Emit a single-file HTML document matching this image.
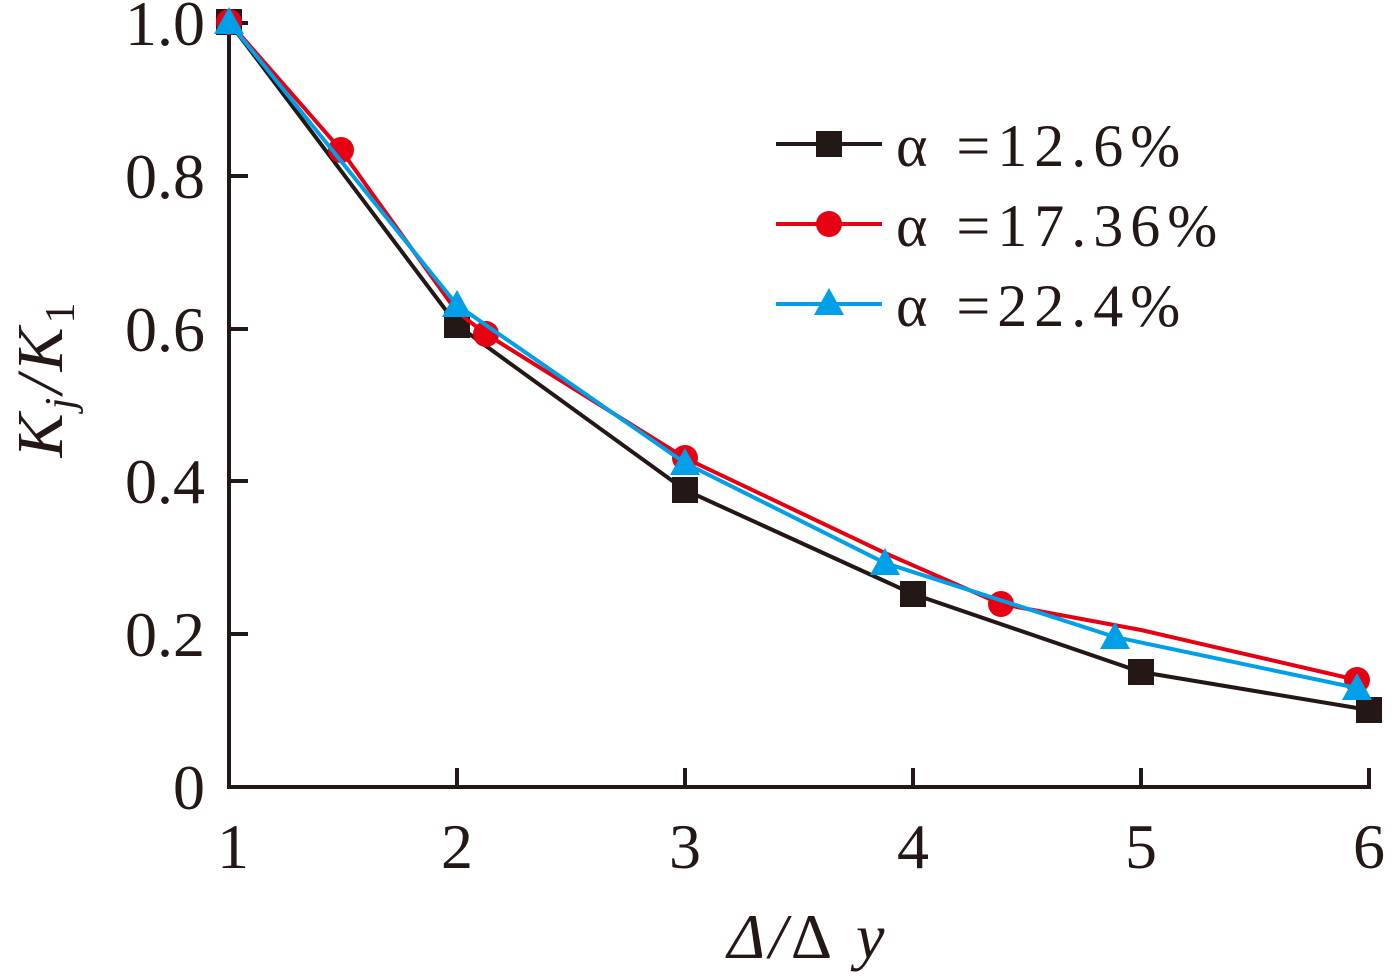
<!DOCTYPE html>
<html><head><meta charset="utf-8"><style>
html,body{margin:0;padding:0;background:#fff;}
svg text{font-family:"Liberation Serif","Times New Roman",Times,serif;fill:#231815;}
</style></head><body>
<svg width="1392" height="975" xmlns="http://www.w3.org/2000/svg">
<g stroke="#231815" stroke-width="4" fill="none">
<path d="M229,20 V787 H1371"/>
<path d="M229,176 H248 M229,329 H248 M229,481 H248 M229,634 H248 M229,23 H248"/>
<path d="M457,787 V768 M685,787 V768 M913,787 V768 M1141,787 V768 M1369,787 V768"/>
</g>
<g font-size="64" text-anchor="end">
<text x="205" y="45">1.0</text>
<text x="205" y="198">0.8</text>
<text x="205" y="351">0.6</text>
<text x="205" y="503">0.4</text>
<text x="205" y="656">0.2</text>
<text x="205" y="809">0</text>
</g>
<g font-size="64" text-anchor="middle">
<text x="233" y="868">1</text>
<text x="457" y="868">2</text>
<text x="685" y="868">3</text>
<text x="913" y="868">4</text>
<text x="1141" y="868">5</text>
<text x="1369" y="868">6</text>
</g>
<text x="808" y="958" font-size="64" text-anchor="middle" font-style="italic" letter-spacing="4">Δ/<tspan font-style="normal">Δ</tspan> y</text>
<text transform="translate(62,378) rotate(-90)" font-size="66" text-anchor="middle" font-style="italic" letter-spacing="4">K<tspan font-size="42" dy="12">j</tspan><tspan dy="-12">/K</tspan><tspan font-size="42" dy="12" font-style="normal">1</tspan></text>
<!-- black -->
<polyline points="229,22 457,325 685,490 913,594 1141,672 1369,710" stroke="#231815" stroke-width="4" fill="none"/>
<g fill="#231815">
<rect x="216" y="9" width="26" height="26"/><rect x="444" y="312" width="26" height="26"/><rect x="672" y="477" width="26" height="26"/><rect x="900" y="581" width="26" height="26"/><rect x="1128" y="659" width="26" height="26"/><rect x="1356" y="697" width="26" height="26"/>
</g>
<!-- red -->
<polyline points="229,22 341,150 457,312 486,334 685,458 885,553 1001,604 1141,630 1357,680" stroke="#e60012" stroke-width="4" fill="none"/>
<g fill="#e60012">
<circle cx="229" cy="22" r="13"/><circle cx="341" cy="150" r="13"/><circle cx="486" cy="334" r="13"/><circle cx="685" cy="458" r="13"/><circle cx="1001" cy="604" r="13"/><circle cx="1357" cy="680" r="13"/>
</g>
<!-- blue -->
<polyline points="229,22 457,305 685,463 885,563 1115,637 1357,688" stroke="#00a0e9" stroke-width="4" fill="none"/>
<g fill="#00a0e9">
<path d="M229,7 l15,27 h-30z"/><path d="M457,290 l15,27 h-30z"/><path d="M685,448 l15,27 h-30z"/><path d="M885,548 l15,27 h-30z"/><path d="M1115,622 l15,27 h-30z"/><path d="M1357,673 l15,27 h-30z"/>
</g>
<!-- legend -->
<line x1="776" y1="144" x2="882" y2="144" stroke="#231815" stroke-width="4"/>
<rect x="816" y="131" width="26" height="26" fill="#231815"/>
<line x1="776" y1="224" x2="882" y2="224" stroke="#e60012" stroke-width="4"/>
<circle cx="829" cy="224" r="13" fill="#e60012"/>
<line x1="776" y1="304" x2="882" y2="304" stroke="#00a0e9" stroke-width="4"/>
<path d="M829,288 l15,27 h-30z" fill="#00a0e9"/>
<g font-size="60" letter-spacing="7">
<text x="896" y="166">α =12.6%</text>
<text x="896" y="246">α =17.36%</text>
<text x="896" y="326">α =22.4%</text>
</g>
</svg>
</body></html>
